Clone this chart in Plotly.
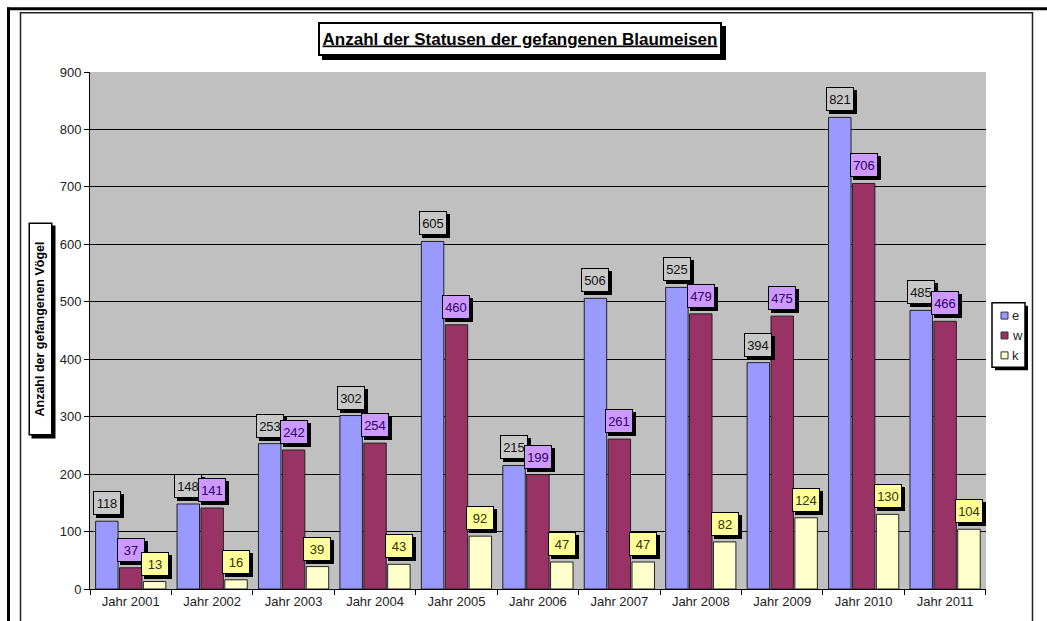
import plotly.graph_objects as go

# ---- data ----
years = ["Jahr 2001", "Jahr 2002", "Jahr 2003", "Jahr 2004", "Jahr 2005", "Jahr 2006",
         "Jahr 2007", "Jahr 2008", "Jahr 2009", "Jahr 2010", "Jahr 2011"]
e_vals = [118, 148, 253, 302, 605, 215, 506, 525, 394, 821, 485]
w_vals = [37, 141, 242, 254, 460, 199, 261, 479, 475, 706, 466]
k_vals = [13, 16, 39, 43, 92, 47, 47, 82, 124, 130, 104]
series_names = ["e", "w", "k"]

title_text = "Anzahl der Statusen der gefangenen Blaumeisen"
ytitle_text = "Anzahl der gefangenen Vögel"

# ---- styling ----
W, H = 1047, 621
ML, MR, MT, MB = 90, 61, 72, 29
PW, PH = W - ML - MR, H - MT - MB
FONT = "Liberation Sans, Arial, sans-serif"

bar_colors = ["#9999FF", "#993366", "#FFFFCC"]
label_bg = ["#C8C8C8", "#CC99FF", "#FFFF99"]
label_fg = ["#111111", "#330066", "#333300"]


def X(px):
    return (px - ML) / PW


def Y(py):
    return (MT + PH - py) / PH


fig = go.Figure()
all_vals = [e_vals, w_vals, k_vals]
for name, vals, col in zip(series_names, all_vals, bar_colors):
    fig.add_trace(go.Bar(
        x=years, y=vals, name=name,
        marker=dict(color=col, line=dict(color="#222222", width=1)),
        showlegend=False,
    ))

annotations = []
cat_w = PW / len(years)
slot = cat_w * (1 - 0.12) / 3
offsets = [-slot, 0, slot]

for si, vals in enumerate(all_vals):
    for cat, v in zip(years, vals):
        common = dict(x=cat, y=v, xref="x", yref="y", yanchor="bottom", xanchor="center",
                      showarrow=False, width=23, height=19, borderpad=1.5, borderwidth=1)
        # shadow (blank box)
        annotations.append(dict(common, text=" ", bgcolor="black", bordercolor="black",
                                font=dict(family=FONT, size=13, color="black"),
                                xshift=offsets[si] + 3, yshift=6 - 3))
        annotations.append(dict(common, text=str(v), bgcolor=label_bg[si], bordercolor="black",
                                font=dict(family=FONT, size=13, color=label_fg[si]),
                                xshift=offsets[si], yshift=6))

# title with shadow box
tx, ty = X(520), Y(39)
annotations.append(dict(x=tx, y=ty, xref="paper", yref="paper", showarrow=False,
                        xanchor="center", yanchor="middle",
                        text=" ", width=400, height=30, bgcolor="black", bordercolor="black",
                        borderwidth=2, borderpad=0, xshift=4, yshift=-4))
annotations.append(dict(x=tx, y=ty, xref="paper", yref="paper", showarrow=False,
                        xanchor="center", yanchor="middle",
                        text="<span style='text-decoration:underline'><b>" + title_text + "</b></span>",
                        width=400, height=30, bgcolor="white", bordercolor="black",
                        borderwidth=2, borderpad=0,
                        font=dict(family=FONT, size=17, color="black")))

# y axis title with shadow box
yx, yy = X(40), Y(331)
annotations.append(dict(x=yx, y=yy, xref="paper", yref="paper", showarrow=False,
                        xanchor="center", yanchor="middle",
                        text=" ", textangle=-90, width=208, height=19, bgcolor="black",
                        bordercolor="black", borderwidth=1.5, borderpad=1, xshift=3, yshift=-3))
annotations.append(dict(x=yx, y=yy, xref="paper", yref="paper", showarrow=False,
                        xanchor="center", yanchor="middle",
                        text="<b>" + ytitle_text + "</b>", textangle=-90, width=208, height=19,
                        bgcolor="white", bordercolor="black", borderwidth=1.5, borderpad=1,
                        font=dict(family=FONT, size=12.5, color="black")))

# legend (drawn manually)
shapes = []
lx0, lx1, ly0, ly1 = 992, 1025, 304, 369
shapes.append(dict(type="rect", xref="paper", yref="paper", x0=X(lx0 + 3), x1=X(lx1 + 3),
                   y0=Y(ly0 + 3), y1=Y(ly1 + 3), fillcolor="black", line=dict(width=0)))
shapes.append(dict(type="rect", xref="paper", yref="paper", x0=X(lx0), x1=X(lx1),
                   y0=Y(ly0), y1=Y(ly1), fillcolor="white", line=dict(color="black", width=1.5)))
leg_y = [317, 337, 357]
for name, col, py in zip(series_names, bar_colors, leg_y):
    shapes.append(dict(type="rect", xref="paper", yref="paper", x0=X(1001), x1=X(1008),
                       y0=Y(py - 3.5), y1=Y(py + 3.5), fillcolor=col,
                       line=dict(color="#333333", width=1)))
    annotations.append(dict(x=X(1010), y=Y(py), xref="paper", yref="paper", showarrow=False,
                            xanchor="left", yanchor="middle", text=name,
                            font=dict(family=FONT, size=13, color="#222222")))

# outer frames
shapes.append(dict(type="line", xref="paper", yref="paper", x0=X(7), x1=X(1050),
                   y0=Y(8.5), y1=Y(8.5), line=dict(color="black", width=3)))
shapes.append(dict(type="line", xref="paper", yref="paper", x0=X(8.5), x1=X(8.5),
                   y0=Y(7), y1=Y(630), line=dict(color="black", width=3)))
shapes.append(dict(type="rect", xref="paper", yref="paper", x0=X(20.5), x1=X(1032.5),
                   y0=Y(12.5), y1=Y(640), line=dict(color="#222222", width=1.5)))

fig.update_layout(
    width=W, height=H,
    margin=dict(l=ML, r=MR, t=MT, b=MB, pad=0),
    paper_bgcolor="white", plot_bgcolor="#C0C0C0",
    barmode="group", bargap=0.12, bargroupgap=0.06,
    font=dict(family=FONT, size=13, color="#222222"),
    showlegend=False,
    annotations=annotations, shapes=shapes,
    xaxis=dict(type="category", showline=True, linecolor="black", linewidth=1,
               ticks="outside", tickson="boundaries", ticklen=5, tickcolor="black",
               showgrid=False, tickfont=dict(family=FONT, size=13, color="#222222")),
    yaxis=dict(range=[0, 900], dtick=100, showline=True, linecolor="black", linewidth=1,
               ticks="outside", ticklen=5, tickcolor="black", showgrid=True,
               gridcolor="black", gridwidth=1, zeroline=False,
               tickfont=dict(family=FONT, size=13, color="#222222")),
)

fig.write_html("out.html")
